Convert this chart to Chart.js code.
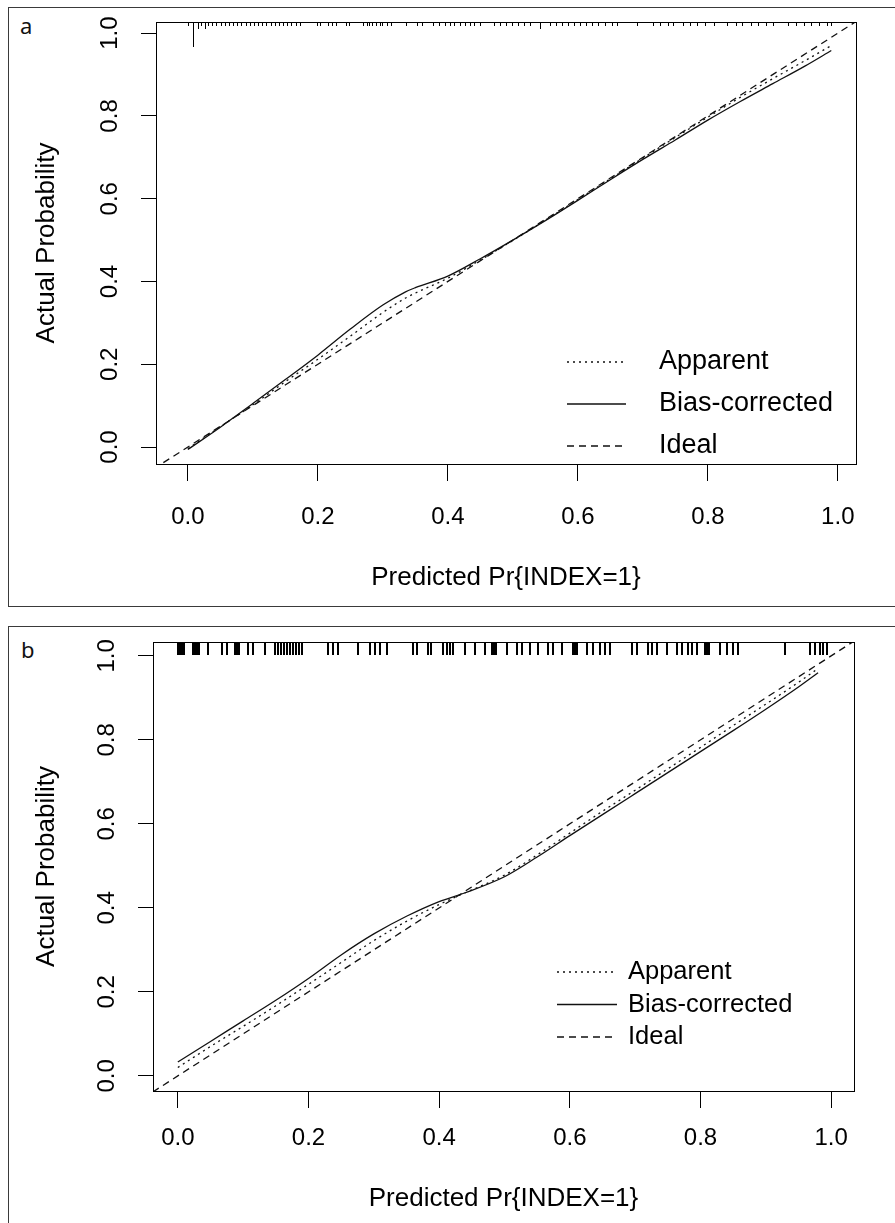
<!DOCTYPE html>
<html>
<head>
<meta charset="utf-8">
<script src="https://cdn.jsdelivr.net/npm/chart.js@4.4.0/dist/chart.umd.min.js"></script>
<style>
body { margin:0; width:895px; height:1223px; overflow:hidden; background:#fff; position:relative; }
.frame { position:absolute; border:1px solid #3a3a3a; background:#fff; }
#frameA { left:8px; top:7px; width:900px; height:598px; }
#frameB { left:8px; top:626px; width:900px; height:620px; }
.tag { position:absolute; font-family:'Noto Sans','Open Sans',sans-serif; font-size:22px; color:#111; line-height:1; }
canvas { position:absolute; left:0; }
#chartA { top:0; }
#chartB { top:612px; }
</style>
</head>
<body>
<div class="frame" id="frameA"></div>
<div class="frame" id="frameB"></div>
<div class="tag" style="left:20px;top:14px">a</div>
<div class="tag" style="left:21px;top:638px">b</div>
<canvas id="chartA" width="895" height="612"></canvas>
<canvas id="chartB" width="895" height="611"></canvas>
<script>
const xTicks = [0, 0.2, 0.4, 0.6, 0.8, 1.0];
const yTicks = [0, 0.2, 0.4, 0.6, 0.8, 1.0];
const seriesNames = ['Apparent', 'Bias-corrected', 'Ideal'];
const idealLine = [-0.1, 1.1];
const xTitle = 'Predicted Pr{INDEX=1}';
const yTitle = 'Actual Probability';

// panel a
const predA = [0.00, 0.05, 0.10, 0.15, 0.20, 0.25, 0.30, 0.335, 0.35, 0.40, 0.45, 0.50, 0.55, 0.60, 0.65, 0.70, 0.75, 0.80, 0.85, 0.90, 0.95, 0.99];
const apparentA = [-0.004, 0.049, 0.102, 0.158, 0.212, 0.268, 0.325, 0.360, 0.372, 0.408, 0.452, 0.499, 0.548, 0.598, 0.648, 0.698, 0.748, 0.797, 0.845, 0.890, 0.934, 0.970];
const biasA = [-0.006, 0.048, 0.105, 0.163, 0.222, 0.285, 0.343, 0.375, 0.385, 0.413, 0.455, 0.500, 0.547, 0.596, 0.646, 0.695, 0.742, 0.790, 0.835, 0.878, 0.921, 0.958];
const rugA = [0.000, 0.008, 0.015, 0.020, 0.026, 0.031, 0.037, 0.043, 0.051, 0.057,
  0.063, 0.069, 0.076, 0.082, 0.090, 0.096, 0.102, 0.108, 0.114, 0.120,
  0.128, 0.134, 0.140, 0.147, 0.153, 0.159, 0.167, 0.173, 0.198, 0.204,
  0.215, 0.222, 0.228, 0.244, 0.248, 0.269, 0.275, 0.279, 0.284, 0.290,
  0.295, 0.299, 0.307, 0.313, 0.336, 0.353, 0.360, 0.377, 0.387, 0.395,
  0.403, 0.410, 0.418, 0.426, 0.434, 0.441, 0.449, 0.471, 0.480, 0.489,
  0.498, 0.508, 0.517, 0.526, 0.542, 0.557, 0.566, 0.576, 0.585, 0.594,
  0.603, 0.613, 0.622, 0.631, 0.642, 0.653, 0.660, 0.691, 0.716, 0.727,
  0.738, 0.747, 0.762, 0.773, 0.784, 0.795, 0.809, 0.830, 0.843, 0.853,
  0.866, 0.877, 0.889, 0.901, 0.923, 0.935, 0.948, 0.958, 0.971, 0.983, 0.990];
const rugTallA = [0.008, 0.015, 0.026, 0.542];
const rugTallCountA = [7, 2, 2, 2];

// panel b
const predB = [0.00, 0.05, 0.10, 0.15, 0.20, 0.25, 0.30, 0.35, 0.40, 0.44, 0.50, 0.55, 0.60, 0.65, 0.70, 0.75, 0.80, 0.85, 0.90, 0.95, 0.98];
const apparentB = [0.020, 0.070, 0.118, 0.167, 0.218, 0.270, 0.322, 0.368, 0.408, 0.436, 0.478, 0.526, 0.578, 0.630, 0.680, 0.731, 0.782, 0.834, 0.885, 0.937, 0.970];
const biasB = [0.033, 0.082, 0.131, 0.180, 0.232, 0.288, 0.338, 0.380, 0.415, 0.436, 0.474, 0.521, 0.572, 0.622, 0.672, 0.722, 0.772, 0.822, 0.873, 0.926, 0.960];
const rugB = [0.000, 0.002, 0.004, 0.006, 0.008, 0.010, 0.023, 0.026, 0.029, 0.032,
  0.046, 0.067, 0.075, 0.087, 0.090, 0.094, 0.107, 0.115, 0.133, 0.149,
  0.153, 0.158, 0.162, 0.167, 0.171, 0.176, 0.181, 0.185, 0.190, 0.230,
  0.237, 0.245, 0.276, 0.294, 0.302, 0.309, 0.320, 0.360, 0.366, 0.383,
  0.387, 0.406, 0.412, 0.417, 0.421, 0.440, 0.455, 0.470, 0.481, 0.484,
  0.487, 0.504, 0.519, 0.527, 0.539, 0.551, 0.567, 0.574, 0.588, 0.605,
  0.608, 0.611, 0.626, 0.636, 0.646, 0.654, 0.662, 0.695, 0.703, 0.720,
  0.726, 0.734, 0.749, 0.764, 0.772, 0.781, 0.787, 0.795, 0.807, 0.810,
  0.813, 0.830, 0.841, 0.850, 0.858, 0.930, 0.968, 0.975, 0.983, 0.988, 0.994];

const FONT = "'Liberation Sans', Arial, sans-serif";

// box, rotated y labels, rug and legend in R style
const rStyle = {
  id: 'rStyle',
  afterDatasetsDraw(chart, args, opts) {
    const {ctx, chartArea: a, scales: {x, y}} = chart;
    ctx.save();
    ctx.strokeStyle = '#000';
    ctx.lineWidth = 1;
    ctx.strokeRect(a.left + 0.5, a.top + 0.5, a.right - a.left, a.bottom - a.top);

    ctx.fillStyle = '#000';
    ctx.font = '24px ' + FONT;
    ctx.textAlign = 'center';
    ctx.textBaseline = 'middle';
    y.ticks.forEach(t => {
      ctx.save();
      ctx.translate(a.left - 46, y.getPixelForValue(t.value));
      ctx.rotate(-Math.PI / 2);
      ctx.fillText(t.value.toFixed(1), 0, 0);
      ctx.restore();
    });

    // rug of predicted values along the top
    ctx.lineWidth = opts.rugWidth;
    const half = opts.rugWidth % 2 ? 0.5 : 0;
    opts.rug.forEach(v => {
      const k = opts.tall.indexOf(v);
      const len = opts.rugLen * (k >= 0 ? opts.tallCount[k] : 1);
      const px = Math.round(x.getPixelForValue(v)) + half;
      ctx.beginPath();
      ctx.moveTo(px, a.top);
      ctx.lineTo(px, Math.round(a.top + len));
      ctx.stroke();
    });

    const lg = opts.legend;
    chart.data.datasets.forEach((ds, i) => {
      const ly = lg.top + i * lg.step;
      ctx.strokeStyle = ds.borderColor;
      ctx.lineWidth = ds.borderWidth;
      ctx.setLineDash(ds.borderDash || []);
      ctx.beginPath();
      ctx.moveTo(lg.left, ly);
      ctx.lineTo(lg.left + lg.sample, ly);
      ctx.stroke();
      ctx.setLineDash([]);
      ctx.font = lg.size + 'px ' + FONT;
      ctx.textAlign = 'left';
      ctx.fillText(ds.label, lg.textLeft, ly);
    });
    ctx.restore();
  }
};

function makeChart(id, p) {
  const pts = ys => p.pred.map((v, i) => ({x: v, y: ys[i]}));
  return new Chart(document.getElementById(id), {
    type: 'line',
    data: {
      datasets: [
        {label: seriesNames[0], data: pts(p.apparent), borderColor: '#111', borderWidth: 1.3, borderDash: [2, 4], pointRadius: 0, cubicInterpolationMode: 'monotone'},
        {label: seriesNames[1], data: pts(p.bias), borderColor: '#111', borderWidth: 1.3, borderDash: [], pointRadius: 0, cubicInterpolationMode: 'monotone'},
        {label: seriesNames[2], data: idealLine.map(v => ({x: v, y: v})), borderColor: '#111', borderWidth: 1.3, borderDash: [7, 5], pointRadius: 0, clip: 0}
      ]
    },
    plugins: [rStyle],
    options: {
      responsive: false,
      animation: false,
      devicePixelRatio: 1,
      layout: {padding: {left: 0, top: p.top, right: p.right, bottom: 0}},
      plugins: {
        legend: {display: false},
        tooltip: {enabled: false},
        rStyle: {rug: p.rug, tall: p.tall, tallCount: p.tallCount, rugLen: p.rugLen, rugWidth: p.rugWidth, legend: p.legend}
      },
      scales: {
        x: {
          type: 'linear', min: p.xMin, max: p.xMax,
          afterBuildTicks: s => { s.ticks = xTicks.map(v => ({value: v})); },
          afterFit: s => { s.height = p.xAxisHeight; },
          grid: {drawOnChartArea: false, drawTicks: true, tickLength: 17, color: '#000', lineWidth: 1},
          border: {display: false},
          ticks: {color: '#000', font: {family: FONT, size: 24}, padding: p.xTickPad, maxRotation: 0, autoSkip: false,
            callback: v => v.toFixed(1)},
          title: {display: true, text: xTitle, color: '#000', font: {family: FONT, size: 26}, padding: {top: 0, bottom: p.xTitlePad}}
        },
        y: {
          type: 'linear', min: p.yMin, max: p.yMax,
          afterBuildTicks: s => { s.ticks = yTicks.map(v => ({value: v})); },
          afterFit: s => { s.width = p.yAxisWidth; },
          grid: {drawOnChartArea: false, drawTicks: true, tickLength: 15, color: '#000', lineWidth: 1},
          border: {display: false},
          ticks: {display: false},
          title: {display: true, text: yTitle, color: '#000', font: {family: FONT, size: 26}, padding: {top: 31, bottom: 0}}
        }
      }
    }
  });
}

makeChart('chartA', {
  pred: predA, apparent: apparentA, bias: biasA,
  rug: rugA, tall: rugTallA, tallCount: rugTallCountA, rugLen: 3.5, rugWidth: 1,
  xMin: -0.049, xMax: 1.028, yMin: -0.041, yMax: 1.027,
  top: 22, right: 39, xAxisHeight: 148, yAxisWidth: 156, xTickPad: 22, xTitlePad: 19,
  legend: {left: 567, sample: 59, textLeft: 659, top: 362, step: 42, size: 27}
});

makeChart('chartB', {
  pred: predB, apparent: apparentB, bias: biasB,
  rug: rugB, tall: [], tallCount: [], rugLen: 13, rugWidth: 2,
  xMin: -0.038, xMax: 1.035, yMin: -0.036, yMax: 1.033,
  top: 30, right: 41, xAxisHeight: 132, yAxisWidth: 153, xTickPad: 16, xTitlePad: 9,
  legend: {left: 557, sample: 60, textLeft: 628, top: 360, step: 32.5, size: 25.5}
});
</script>
</body>
</html>
